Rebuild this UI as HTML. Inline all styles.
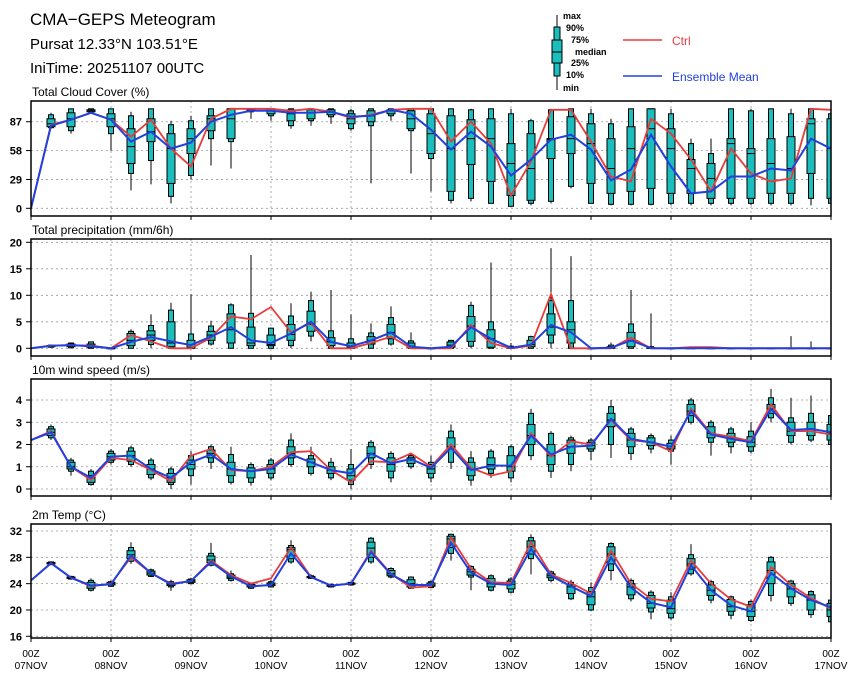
<!DOCTYPE html>
<html><head><meta charset="utf-8">
<style>
html,body{margin:0;padding:0;background:#fff;}
svg{display:block;font-family:"Liberation Sans",sans-serif;}
</style></head>
<body>
<svg id="chart" width="860" height="678" viewBox="0 0 860 678">
<text x="30" y="25" font-size="17" font-weight="500">CMA−GEPS Meteogram</text>
<text x="30" y="49" font-size="15">Pursat 12.33°N 103.51°E</text>
<text x="30" y="73" font-size="15">IniTime: 20251107 00UTC</text>
<g font-size="9" font-weight="bold">
<line x1="557" y1="15" x2="557" y2="90" stroke="#000"/>
<rect x="554" y="27" width="6" height="49" fill="#1bbdbd" stroke="#000"/>
<rect x="552" y="40" width="10" height="23" fill="#1bbdbd" stroke="#000"/>
<line x1="552" y1="52" x2="562" y2="52" stroke="#000"/>
<text x="563" y="19">max</text><text x="566" y="31">90%</text><text x="571" y="43">75%</text>
<text x="575" y="55">median</text><text x="571" y="66">25%</text><text x="566" y="78">10%</text><text x="563" y="91">min</text>
</g>
<g><line x1="623" y1="40" x2="662" y2="40" stroke="#e83c3c" stroke-width="1.5"/><text x="672" y="45" fill="#e83c3c" font-size="12">Ctrl</text></g>
<g><line x1="623" y1="76" x2="662" y2="76" stroke="#2040e0" stroke-width="1.5"/><text x="672" y="81" fill="#2040e0" font-size="12">Ensemble Mean</text></g>
</svg>
<script>
// ---- data ----
const days = ["07NOV","08NOV","09NOV","10NOV","11NOV","12NOV","13NOV","14NOV","15NOV","16NOV","17NOV"];
// Cloud cover
const ctrlC = [0,84,89,96,89,72,89,60,42,90,100,100,100,98,100,97,91,94,99,100,100,67,87,65,13,47,99,99,67,32,27,90,75,49,17,60,35,27,30,100,99];
const meanC = [0,83,89,96,89,67,77,60,66,87,94,98,98,96,96,97,92,93,99,95,79,59,77,62,33,49,69,74,59,28,39,74,42,15,17,32,32,40,38,70,60];
const minC = [null,80,75,96,58,18,24,5,29,43,40,90,88,80,83,85,78,25,88,35,17,5,7,5,2,3,5,20,5,3,3,3,3,3,3,3,3,3,3,3,3];
const p10C = [null,81,78,97,75,35,48,12,33,70,67,97,93,83,88,92,80,83,93,78,50,8,10,5,2,5,7,22,5,4,4,4,5,5,5,5,5,5,5,10,5];
const p25C = [null,82,82,97,82,45,67,25,55,78,70,98,95,88,90,94,85,87,95,80,55,17,44,27,13,8,50,55,25,15,17,20,15,15,10,10,10,15,15,35,10];
const medC = [null,85,90,98,90,62,77,60,70,90,90,99,98,95,96,97,90,93,98,90,75,60,70,70,45,40,69,70,65,40,60,80,60,40,30,65,55,45,40,85,60];
const p75C = [null,90,96,99,95,80,90,75,80,93,100,100,100,99,99,99,95,98,99,98,95,93,89,90,65,75,70,92,85,70,82,100,80,49,45,70,60,70,72,90,90];
const p90C = [null,94,100,100,100,93,100,84,88,100,100,100,100,100,100,100,98,100,100,100,100,100,99,100,95,88,99,100,95,85,100,100,95,65,55,100,98,100,95,100,95];
const maxC = [null,96,100,100,100,97,100,88,93,100,100,100,100,100,100,100,100,100,100,100,100,100,100,100,100,90,100,100,100,90,100,100,100,70,70,100,100,100,100,100,100];
// Precipitation
const ctrlP = [0,0.5,0.6,0.5,0,2.5,1.3,0,0,2.0,6.0,5.5,7.8,3.0,4.8,0,0,1.0,2.2,0,0,0,4.4,1.0,0,0.5,10.2,0,0,0,2.0,0,0,0.2,0.2,0,0,0,0,0,0];
const meanP = [0,0.5,0.6,0.4,0,1.2,2.1,1.3,0.6,2.2,4.0,1.5,1.0,2.8,5.0,1.2,0.4,1.5,3.0,0.3,0,0.3,4.0,1.8,0.1,0.7,4.4,3.0,0,0.1,1.5,0,0,0,0,0,0,0,0,0,0];
const minP = [null,0.1,0,0,0,0,0,0,0,0.5,0,0,0,0,1.3,0,0,0,0.5,0,0,0,0,0,0,0,0,0,0,0,0,0,0,0,0,0,0,0,0,0,0];
const p10P = [null,0.2,0.1,0,0,0,0.7,0,0,0.8,0,0,0,0.5,2.3,0,0,0,0.8,0,0,0,0.4,0,0,0,1,0,0,0,0,0,0,0,0,0,0,0,0,0,0];
const p25P = [null,0.3,0.3,0.2,0,0.5,1.5,0.3,0,1.5,1,0.5,0.5,1.5,3.2,0.5,0,0.8,1.8,0.2,0,0.2,1.3,0.2,0,0.3,2.5,1,0,0,0.3,0,0,0,0,0,0,0,0,0,0];
const medP = [null,0.4,0.5,0.5,0,1.5,2.5,1,0.2,2.5,3.5,1.0,0.7,2.6,4.5,1.2,0.2,1.5,3.0,0.4,0,0.6,4.2,1.8,0.1,0.7,4.0,3.5,0,0.1,1.5,0,0,0,0,0,0,0,0,0,0];
const p75P = [null,0.5,0.8,0.8,0,2.8,3.3,5,1.5,3.2,6.5,4,2.5,4.5,7.0,2,1,2.2,4.5,1.0,0,1.2,6.0,3.5,0.2,1.5,6.5,5,0,0.3,3,0.1,0,0,0,0,0,0,0,0,0];
const p90P = [null,0.6,1.0,1.2,0,3.2,4.3,7.2,2.7,4.2,8.2,6.6,3.8,6.1,9.0,3.3,1.8,2.9,5.8,1.4,0,1.5,8.1,5.0,0.4,2.2,9,9,0,0.6,4.6,0.3,0,0.1,0.1,0,0,0,0,0,0];
const maxP = [null,0.7,1.1,1.3,0,3.6,6.4,8.6,10.2,5.2,8.5,17.6,3.9,8.5,10.7,11,6.4,4.7,7.9,3.0,0.1,1.6,8.8,16.2,1.0,2.4,18.9,17.4,0,1.1,11,6.6,0.1,0.2,0.2,0.1,0.1,0.1,2.3,1.3,0.2];
// Wind
const ctrlW = [2.2,2.6,1.0,0.4,1.4,1.3,0.85,0.35,1.5,1.8,0.85,0.8,1.0,1.65,1.7,0.85,0.3,1.25,1.2,1.6,1.0,2.0,0.95,0.6,0.8,2.5,1.45,2.15,2.0,3.1,2.2,2.1,1.7,3.6,2.5,2.35,2.15,3.8,2.6,2.6,2.45];
const meanW = [2.2,2.55,1.0,0.5,1.45,1.5,0.9,0.5,1.2,1.55,0.9,0.8,0.9,1.55,1.2,0.85,0.7,1.6,1.15,1.35,0.95,1.85,0.85,1.05,1.05,2.4,1.55,1.9,1.95,3.15,2.25,2.1,1.9,3.5,2.45,2.25,2.1,3.6,2.65,2.7,2.55];
const minW = [null,2.2,0.6,0.15,1.1,1.0,0.4,0.0,0.2,0.9,0.2,0.15,0.4,1.0,0.6,0.4,0.0,0.9,0.3,0.9,0.3,0.9,0.15,0.5,0.3,1.3,0.5,0.8,1.3,1.4,1.3,1.6,1.1,2.9,1.5,1.6,1.6,3.0,2.0,2.1,1.9];
const p10W = [null,2.3,0.8,0.2,1.2,1.1,0.5,0.2,0.6,1.2,0.3,0.3,0.5,1.1,0.7,0.5,0.2,1.1,0.5,1.0,0.5,1.2,0.4,0.7,0.5,1.5,0.8,1.1,1.7,2.0,1.6,1.8,1.7,3.0,2.1,1.9,1.7,3.2,2.1,2.2,2.0];
const p25W = [null,2.4,0.9,0.3,1.3,1.25,0.65,0.3,0.9,1.4,0.6,0.5,0.7,1.4,1.0,0.7,0.4,1.4,0.8,1.15,0.7,1.8,0.6,0.9,0.8,2.0,1.1,1.6,1.8,2.8,1.9,1.95,1.8,3.3,2.3,2.1,1.9,3.4,2.4,2.4,2.2];
const medW = [null,2.55,1.0,0.5,1.45,1.5,0.9,0.5,1.1,1.6,0.9,0.8,0.9,1.6,1.2,0.85,0.6,1.6,1.1,1.3,0.9,1.9,0.9,1.1,1.0,2.4,1.5,1.9,1.95,3.1,2.2,2.1,1.9,3.5,2.5,2.3,2.1,3.6,2.6,2.7,2.5];
const p75W = [null,2.7,1.2,0.6,1.6,1.7,1.1,0.7,1.3,1.75,1.2,0.95,1.1,1.9,1.35,1.0,0.9,1.9,1.4,1.4,1.1,2.3,1.2,1.4,1.5,2.9,2.0,2.2,2.1,3.4,2.5,2.3,2.05,3.8,2.8,2.5,2.35,3.8,3.0,3.0,2.9];
const p90W = [null,2.8,1.3,0.8,1.7,1.85,1.3,0.9,1.5,1.9,1.55,1.1,1.3,2.2,1.5,1.2,1.1,2.1,1.6,1.5,1.2,2.6,1.4,1.7,1.9,3.4,2.5,2.3,2.2,3.7,2.7,2.4,2.2,4.0,3.0,2.7,2.6,4.1,3.2,3.4,3.3];
const maxW = [null,2.9,1.4,0.9,1.8,1.95,1.4,1.0,1.7,2.0,1.9,1.2,1.4,2.5,1.9,1.4,1.8,2.2,1.7,1.6,1.5,2.9,1.7,1.8,2.0,3.6,2.6,2.4,2.3,4.0,2.8,2.5,2.4,4.1,3.1,2.8,3.0,4.5,4.1,4.2,3.4];
// Temperature
const ctrlT = [24.5,27.1,24.9,23.6,24,28,25.6,24,24.4,27.5,25.3,24,24.8,29.5,25,23.7,24,29,25.5,23.4,23.6,31,26.3,24.2,24.1,30.3,25.4,24.1,22.5,29,24,21.7,21.3,27.5,24,21.6,20.5,26.5,23.8,21.8,20.2];
const meanT = [24.5,27.1,24.9,23.7,23.9,28.3,25.6,23.9,24.4,27.3,25.1,23.6,23.8,28.6,25,23.7,24,28.8,25.4,23.8,23.8,30.2,25.7,24,23.8,29.3,25.2,23.6,22.1,28,23.4,21.1,20.4,26.8,23,20.7,19.8,25.6,23.3,21.5,20.4];
const minT = [null,26.8,24.6,22.8,23.5,27,25,22.9,23.9,26.6,24.3,23.2,23.4,27,24.7,23.4,23.7,27,24.8,23.2,23.3,27.5,23,22.8,22.5,25.4,24.2,21.5,19.8,24.5,21.3,18.6,18.5,25.2,21,18.6,18.2,21.3,20.6,18.8,17.9];
const p10T = [null,26.9,24.7,23,23.6,27.4,25.1,23.5,24,26.8,24.5,23.3,23.5,27.3,24.8,23.5,23.8,27.3,25,23.3,23.4,28.6,25,23,22.7,27.8,24.5,21.7,20,26,21.7,19.7,18.8,25.5,21.5,19.2,18.4,22.2,21,19.3,18.2];
const p25T = [null,27.0,24.8,23.3,23.8,27.8,25.3,23.7,24.2,27.2,24.8,23.5,23.7,27.8,24.9,23.6,23.9,28,25.2,23.5,23.6,29.5,25.3,23.5,23.2,28.5,24.9,22.5,20.8,27,22.3,20.3,19.5,26.2,22.2,19.8,19.0,24,22,20,19];
const medT = [null,27.1,24.9,23.7,24,28.4,25.6,23.9,24.4,27.6,25,23.7,23.9,29.2,25,23.7,24,29.4,25.5,24,23.8,30.8,25.8,24,23.9,29.6,25.2,23.5,22,28.5,23.5,21,20.2,27,23,20.5,19.8,26,23.2,21.5,20];
const p75T = [null,27.2,25.0,24.2,24.2,29,25.9,24.1,24.6,28.2,25.3,23.9,24.1,29.5,25.1,23.8,24.1,30.3,26,24.6,24.1,31.2,26.2,24.8,24.4,30.5,25.5,23.8,22.8,29.6,24,22.2,21.5,27.8,23.8,21.6,20.8,27.3,24,22.3,21];
const p90T = [null,27.3,25.1,24.5,24.3,29.5,26.1,24.3,24.7,28.6,25.5,24,24.3,29.8,25.2,23.9,24.2,30.9,26.3,25,24.3,31.5,26.6,25.2,24.7,31,25.8,24.2,23.4,30.1,24.5,22.7,22,28.4,24.3,22,21.3,28,24.4,22.8,21.5];
const maxT = [null,27.4,25.2,24.8,24.5,30.3,26.3,24.6,24.9,30.2,26,24.2,24.5,30.6,25.4,24,24.3,31.1,26.5,25.1,24.5,31.6,26.8,25.4,25,31.5,26,24.6,24.2,30.3,24.8,23,22.7,30,24.6,22.2,21.6,28.2,24.6,23,21.6];

const tickC = [0,29,58,87], tickP = [0,5,10,15,20], tickW = [0,1,2,3,4], tickT = [16,20,24,28,32];

const NS = "http://www.w3.org/2000/svg";
const svg = document.getElementById("chart");
const X0 = 31, X1 = 831, NSTEP = 40;
function xAt(i){ return X0 + (X1 - X0) * i / NSTEP; }
function mk(tag, attrs, parent){ const e = document.createElementNS(NS, tag); for (const k in attrs) e.setAttribute(k, attrs[k]); (parent||svg).appendChild(e); return e; }
const defs = mk("defs", {});

const panels = [
 {key:"cloud", title:"Total Cloud Cover (%)", top:101, bot:216, vmin:0, vmax:100, y0:208.3, y1:108.8, ticks:tickC, ctrl:ctrlC, mean:meanC, b:[minC,p10C,p25C,medC,p75C,p90C,maxC]},
 {key:"precip", title:"Total precipitation (mm/6h)", top:239, bot:356, vmin:0, vmax:20, y0:348.3, y1:242.3, ticks:tickP, ctrl:ctrlP, mean:meanP, b:[minP,p10P,p25P,medP,p75P,p90P,maxP]},
 {key:"wind", title:"10m wind speed (m/s)", top:379, bot:496, vmin:0, vmax:4, y0:489, y1:400, ticks:tickW, ctrl:ctrlW, mean:meanW, b:[minW,p10W,p25W,medW,p75W,p90W,maxW]},
 {key:"temp", title:"2m Temp (°C)", top:524, bot:638, vmin:16, vmax:32, y0:636.3, y1:531, ticks:tickT, ctrl:ctrlT, mean:meanT, b:[minT,p10T,p25T,medT,p75T,p90T,maxT]}
];

panels.forEach(p => {
  const g = mk("g", {});
  
  
  const cp = mk("clipPath", {id:"clip-" + p.key}, defs);
  mk("rect", {x:X0, y:p.top, width:X1-X0, height:p.bot-p.top}, cp);
  const yAt = v => p.y0 + (v - p.vmin) * (p.y1 - p.y0) / (p.vmax - p.vmin);
  const t = mk("text", {x:32, y:p.top - 5, "font-size":12}, g);
  t.textContent = p.title;
  
  
  for (let d = 1; d < days.length - 1; d++) {
    const gl = mk("line", {x1:xAt(d*4), x2:xAt(d*4), y1:p.top, y2:p.bot, stroke:"#999", "stroke-dasharray":"2,3", "stroke-width":0.8}, g);
    
    
  }
  p.ticks.forEach(tv => {
    const y = yAt(tv);
    const hl = mk("line", {x1:X0, x2:X1, y1:y, y2:y, stroke:"#999", "stroke-dasharray":"2,3", "stroke-width":0.8}, g);
    
    
    mk("line", {x1:X0-5, x2:X0, y1:y, y2:y, stroke:"#000"}, g);
    const tl = mk("text", {x:X0-9, y:y+4, "font-size":11, "font-weight":"bold", "text-anchor":"end"}, g);
    tl.textContent = tv;
    
    
  });
  const inner = mk("g", {"clip-path":"url(#clip-" + p.key + ")"}, g);
  for (let i = 1; i <= NSTEP; i++) {
    const [mn,a,b,md,c,d,mx] = p.b.map(arr => arr[i]);
    if (mn === null || mn === undefined) continue;
    const x = xAt(i);
    const bg = mk("g", {}, inner);
    
    
    mk("line", {x1:x, x2:x, y1:yAt(mn), y2:yAt(mx), stroke:"#000", "stroke-width":1}, bg);
    mk("rect", {x:x-2.5, y:yAt(d), width:5, height:Math.max(0.5, yAt(a)-yAt(d)), fill:"#1bbdbd", stroke:"#000", "stroke-width":1}, bg);
    mk("rect", {x:x-4, y:yAt(c), width:8, height:Math.max(0.5, yAt(b)-yAt(c)), fill:"#1bbdbd", stroke:"#000", "stroke-width":1}, bg);
    mk("line", {x1:x-4, x2:x+4, y1:yAt(md), y2:yAt(md), stroke:"#000", "stroke-width":1}, bg);
  }
  const pts = arr => arr.map((v,i) => xAt(i).toFixed(1) + "," + yAt(v).toFixed(1)).join(" ");
  const lc = mk("polyline", {points:pts(p.ctrl), fill:"none", stroke:"#e83c3c", "stroke-width":1.8}, inner);
  
  
  const lm = mk("polyline", {points:pts(p.mean), fill:"none", stroke:"#2040e0", "stroke-width":2}, inner);
  
  
  const frame = mk("rect", {x:X0, y:p.top, width:X1-X0, height:p.bot-p.top, fill:"none", stroke:"#000", "stroke-width":1.5}, g);
  
  
  for (let d = 0; d < days.length; d++) {
    mk("line", {x1:xAt(d*4), x2:xAt(d*4), y1:p.bot, y2:p.bot+4, stroke:"#000"}, g);
  }
});
days.forEach((dl, d) => {
  const x = xAt(d*4);
  const t1 = mk("text", {x:x, y:657, "font-size":10, "text-anchor":"middle"});
  t1.textContent = "00Z";
  
  
  const t2 = mk("text", {x:x, y:669, "font-size":10, "text-anchor":"middle"});
  t2.textContent = dl;
  
  
});
</script>
</body></html>
